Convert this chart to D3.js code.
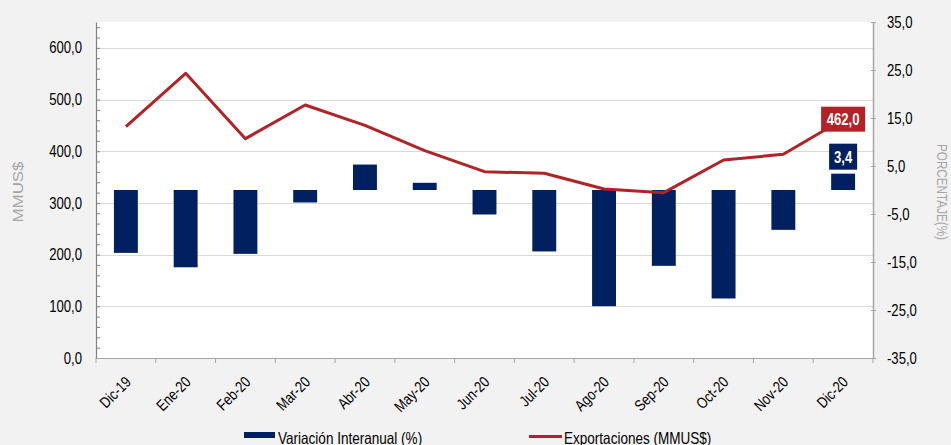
<!DOCTYPE html>
<html>
<head>
<meta charset="utf-8">
<script src="https://cdn.jsdelivr.net/npm/d3@7"></script>
<style>
  html, body { margin: 0; padding: 0; background: #f2f2f2; }
  svg { display: block; font-family: "Liberation Sans", Arial, sans-serif; }
</style>
</head>
<body>
<svg id="chart" width="951" height="445"></svg>
<script>
const categories = ["Dic-19","Ene-20","Feb-20","Mar-20","Abr-20","May-20","Jun-20","Jul-20","Ago-20","Sep-20","Oct-20","Nov-20","Dic-20"];
const variacion = [-13.1,-16.1,-13.3,-2.6,5.3,1.5,-5.1,-12.8,-24.2,-15.8,-22.6,-8.3,3.4];
const exportaciones = [447.5,550.7,424.3,489.5,450.1,401.1,360.4,357.3,327.0,319.8,383.0,394.0,462.0];
const leftTicks = [0,100,200,300,400,500,600];
const rightTicks = [35,25,15,5,-5,-15,-25,-35];
const seriesNames = ["Variación Interanual (%)", "Exportaciones (MMUS$)"];
const leftTitle = "MMUS$";
const rightTitle = "PORCENTAJE(%)";

const NAVY = "#002060", RED = "#b22226";
const L = 96, R = 873, T = 22, B = 358;
const svg = d3.select("#chart");

function condense(sel, k) {
  sel.each(function() {
    const w = this.getComputedTextLength();
    if (w > 0) {
      this.setAttribute("textLength", (w * k).toFixed(2));
      this.setAttribute("lengthAdjust", "spacingAndGlyphs");
    }
  });
}
const fmt = v => v.toFixed(1).replace(".", ",");

const x = d3.scaleBand().domain(categories).range([L, R]).paddingInner(0.6).paddingOuter(0.3);
const yL = d3.scaleLinear().domain([0, 650]).range([B, T]);
const yR = d3.scaleLinear().domain([-35, 35]).range([B, T]);
const cx = c => x(c) + x.bandwidth() / 2;

// plot area
svg.append("rect").attr("x", L).attr("y", T).attr("width", R - L).attr("height", B - T).attr("fill", "#fff");

// gridlines
svg.append("g").selectAll("line").data(leftTicks.filter(d => d > 0)).join("line")
  .attr("x1", L).attr("x2", R).attr("y1", d => Math.round(yL(d)) + 0.5).attr("y2", d => Math.round(yL(d)) + 0.5)
  .attr("stroke", "#d9d9d9").attr("stroke-width", 1.2);

// bars
svg.append("g").selectAll("rect").data(categories).join("rect")
  .attr("x", c => x(c))
  .attr("width", x.bandwidth())
  .attr("y", (c, i) => Math.min(yR(0), yR(variacion[i])))
  .attr("height", (c, i) => Math.abs(yR(variacion[i]) - yR(0)))
  .attr("fill", NAVY);

// line
const line = d3.line().x((d, i) => cx(categories[i])).y(d => yL(d));
svg.append("path").datum(exportaciones).attr("d", line)
  .attr("fill", "none").attr("stroke", RED).attr("stroke-width", 3).attr("stroke-linejoin", "round");

// left axis
const gL = svg.append("g").attr("transform", `translate(${L},0)`)
  .call(d3.axisLeft(yL).tickValues(d3.range(0, 651, 20)).tickSizeInner(-4).tickSizeOuter(0).tickPadding(14)
    .tickFormat(d => (d % 100 === 0 && d <= 600) ? fmt(d) : ""));
gL.select(".domain").attr("stroke", "#808080").attr("stroke-width", 1.2);
gL.selectAll(".tick line").attr("stroke", "#808080");
gL.selectAll(".tick text").attr("font-size", 16).attr("fill", "#000").attr("font-family", "Liberation Sans");

// right axis
const gR = svg.append("g").attr("transform", `translate(${R},0)`)
  .call(d3.axisRight(yR).tickValues(rightTicks).tickSizeInner(3).tickSizeOuter(0).tickPadding(11).tickFormat(fmt));
gR.select(".domain").attr("stroke", "#a6a6a6").attr("stroke-width", 1.5);
gR.selectAll(".tick line").attr("stroke", "#a6a6a6").attr("x1", -2);
gR.selectAll(".tick text").attr("font-size", 16).attr("fill", "#000").attr("font-family", "Liberation Sans");

// bottom axis
const gB = svg.append("g").attr("transform", `translate(0,${B})`)
  .call(d3.axisBottom(x).tickSize(0).tickFormat(""));
gB.select(".domain").attr("stroke", "#a6a6a6").attr("stroke-width", 1.2);
gB.selectAll(".bound").data(d3.range(categories.length + 1)).join("line")
  .attr("x1", i => x.range()[0] + i * x.step()).attr("x2", i => x.range()[0] + i * x.step())
  .attr("y1", 0).attr("y2", 5).attr("stroke", "#a6a6a6");
svg.append("g").selectAll("text").data(categories).join("text")
  .attr("transform", c => `translate(${cx(c) + 6},${B + 25}) rotate(-45)`)
  .attr("text-anchor", "end").attr("font-size", 15.5).attr("fill", "#000")
  .text(c => c);

// axis titles
svg.append("text").attr("transform", `translate(23,${(T + B) / 2 + 2}) rotate(-90)`)
  .attr("text-anchor", "middle").attr("font-size", 14).attr("fill", "#a6a6a6")
  .attr("textLength", 61).attr("lengthAdjust", "spacingAndGlyphs").text(leftTitle);
svg.append("text").attr("transform", `translate(937,${(T + B) / 2 + 2}) rotate(90)`)
  .attr("text-anchor", "middle").attr("font-size", 14).attr("fill", "#a6a6a6")
  .attr("textLength", 96).attr("lengthAdjust", "spacingAndGlyphs").text(rightTitle);

// data labels on last point
const last = categories.length - 1;
const lx = cx(categories[last]), ly = yL(exportaciones[last]);
svg.append("rect").attr("x", lx - 22).attr("y", ly - 12.5).attr("width", 44).attr("height", 25).attr("fill", RED);
svg.append("text").attr("x", lx).attr("y", ly + 6).attr("text-anchor", "middle")
  .attr("font-size", 16).attr("font-weight", "bold").attr("fill", "#fff").attr("class", "cond").text(fmt(exportaciones[last]));
const by = yR(variacion[last]) - 17;
svg.append("rect").attr("x", lx - 14).attr("y", by - 13).attr("width", 28).attr("height", 26).attr("fill", NAVY);
svg.append("text").attr("x", lx).attr("y", by + 6).attr("text-anchor", "middle")
  .attr("font-size", 16).attr("font-weight", "bold").attr("fill", "#fff").attr("class", "cond").text(fmt(variacion[last]));

// legend
svg.append("rect").attr("x", 244).attr("y", 432).attr("width", 31).attr("height", 6).attr("fill", NAVY);
svg.append("text").attr("x", 278).attr("y", 443.5).attr("font-size", 16.5).attr("fill", "#000").attr("class", "cond").text(seriesNames[0]);
svg.append("line").attr("x1", 529).attr("x2", 562).attr("y1", 436.5).attr("y2", 436.5).attr("stroke", RED).attr("stroke-width", 3);
svg.append("text").attr("x", 564).attr("y", 443.5).attr("font-size", 16.5).attr("fill", "#000").attr("class", "cond").text(seriesNames[1]);

// condense text to look like a narrow face
condense(gL.selectAll(".tick text"), 0.82);
condense(gR.selectAll(".tick text"), 0.82);
condense(svg.selectAll(".cond"), 0.82);
condense(svg.selectAll("g text").filter(function(){ return !this.closest(".tick"); }), 0.82);
</script>
</body>
</html>
